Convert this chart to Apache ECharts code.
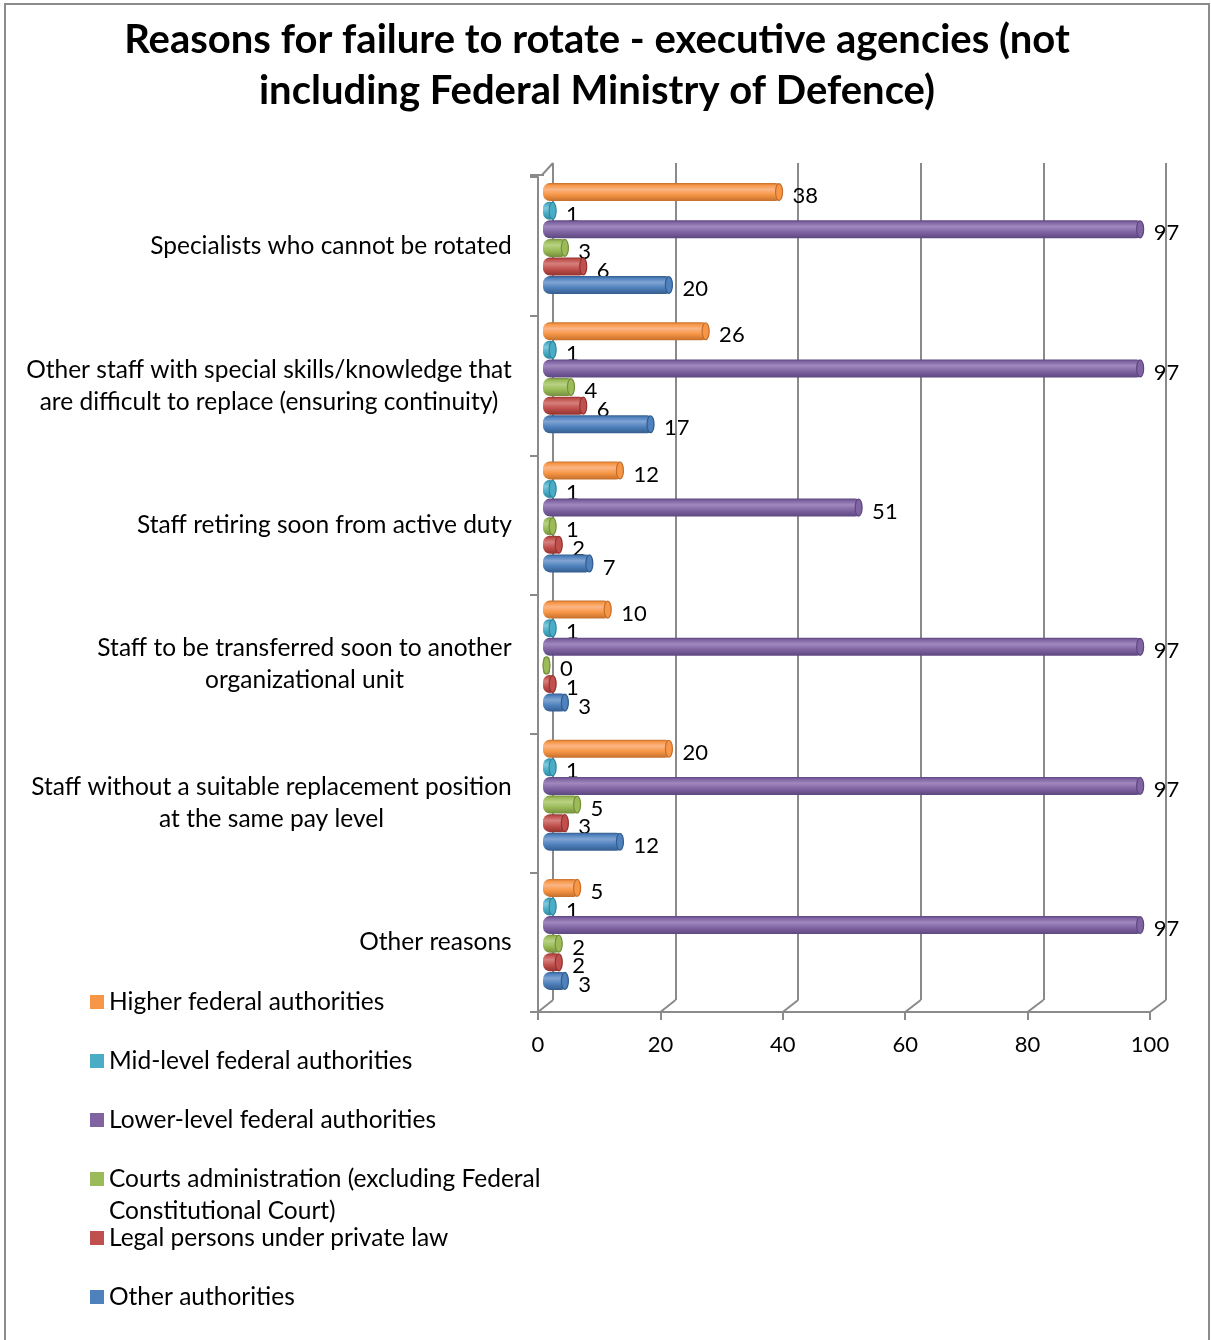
<!DOCTYPE html>
<html>
<head>
<meta charset="utf-8">
<script src="https://cdn.jsdelivr.net/npm/echarts@6/dist/echarts.min.js"></script>
<style>
  html, body { margin: 0; padding: 0; background: #fff; }
  #chart { width: 1211px; height: 1340px; }
</style>
</head>
<body>
<div id="chart"></div>
<script>
// Reasons for failure to rotate, by type of executive agency
var categories = [
  'Specialists who cannot be rotated',
  'Other staff with special skills/knowledge that\nare difficult to replace (ensuring continuity)',
  'Staff retiring soon from active duty',
  'Staff to be transferred soon to another\norganizational unit',
  'Staff without a suitable replacement position\nat the same pay level',
  'Other reasons'
];
var seriesNames = [
  'Higher federal authorities',
  'Mid-level federal authorities',
  'Lower-level federal authorities',
  'Courts administration (excluding Federal Constitutional Court)',
  'Legal persons under private law',
  'Other authorities'
];
var higherFederal = [38, 26, 12, 10, 20, 5];
var midLevelFederal = [1, 1, 1, 1, 1, 1];
var lowerLevelFederal = [97, 97, 51, 97, 97, 97];
var courtsAdministration = [3, 4, 1, 0, 5, 2];
var legalPersonsPrivate = [6, 6, 2, 1, 3, 2];
var otherAuthorities = [20, 17, 7, 3, 12, 3];
var axisTicks = [0, 20, 40, 60, 80, 100];

var seriesValues = [higherFederal, midLevelFederal, lowerLevelFederal,
  courtsAdministration, legalPersonsPrivate, otherAuthorities];

// base / highlight / shade for the cylinder look
var palette = [
  ['#F79646', '#FBB585', '#C46F2C'],
  ['#4BACC6', '#82C8DB', '#2E87A0'],
  ['#8064A2', '#A089BE', '#5C4780'],
  ['#9BBB59', '#B8D283', '#748F3B'],
  ['#C0504D', '#D6807D', '#93332F'],
  ['#4F81BD', '#80A4D3', '#345D8E']
];

var FONT = 'Lato, "Open Sans", sans-serif';
var TEXT_SIZE = 24.5;
var GRID_LINE = '#8a8a8a';
var DEPTH_X = 11;      // bars sit a little behind the front plane
var BAR_H = 18;
var BAR_STEP = 18.6;
var FIRST_OFFSET = -54.5;

// Multi-line category names: lines centred within a right-aligned block
var measureCtx = document.createElement('canvas').getContext('2d');
measureCtx.font = TEXT_SIZE + 'px ' + FONT;
var categoryRich = {};
categories.forEach(function (name, i) {
  var lines = name.split('\n');
  var w = 0;
  lines.forEach(function (l) { w = Math.max(w, measureCtx.measureText(l).width); });
  categoryRich['c' + i] = {
    width: Math.ceil(w), align: 'center',
    fontSize: TEXT_SIZE, fontFamily: FONT, color: '#000', lineHeight: 32
  };
});
function categoryFormatter(value, index) {
  var idx = categories.indexOf(value);
  if (idx < 0) idx = index;
  return value.split('\n').map(function (l) {
    return '{c' + idx + '|' + l + '}';
  }).join('\n');
}

function cylinderRenderer(sIdx) {
  var cols = palette[sIdx];
  return function (params, api) {
    var v = api.value(0);
    var cat = api.value(1);
    var p0 = api.coord([0, cat]);
    var p1 = api.coord([v, cat]);
    var cy = p0[1] + FIRST_OFFSET + sIdx * BAR_STEP;
    var xs = p0[0] + DEPTH_X;
    var xe = p1[0] + DEPTH_X;
    var left = xs - 6;
    var right = Math.max(xe + 1, xs + 1);
    var grad = new echarts.graphic.LinearGradient(0, 0, 0, 1, [
      { offset: 0, color: cols[2] },
      { offset: 0.12, color: cols[0] },
      { offset: 0.35, color: cols[1] },
      { offset: 0.65, color: cols[0] },
      { offset: 1, color: cols[2] }
    ]);
    var children = [
      {
        type: 'rect',
        shape: { x: left, y: cy - BAR_H / 2, width: right - left, height: BAR_H, r: 7 },
        style: { fill: grad }
      },
      {
        type: 'ellipse',
        shape: { cx: right - 3.5, cy: cy, rx: 3.5, ry: BAR_H / 2 - 0.5 },
        style: { fill: cols[0], stroke: cols[2], lineWidth: 1.2 }
      },
      {
        type: 'text',
        style: {
          text: String(v), x: right + 10, y: cy + 4,
          fill: '#000', font: '22px ' + FONT,
          verticalAlign: 'middle', align: 'left'
        }
      }
    ];
    return { type: 'group', children: children };
  };
}

var barSeries = seriesValues.map(function (vals, sIdx) {
  return {
    name: seriesNames[sIdx],
    type: 'custom',
    xAxisIndex: 0,
    yAxisIndex: 0,
    z: 10,
    itemStyle: { color: palette[sIdx][0] },
    encode: { x: 0, y: 1 },
    data: vals.map(function (v, i) { return [v, i]; }),
    renderItem: cylinderRenderer(sIdx)
  };
});

// floor depth lines joining the front axis to the back wall
var depthSeries = {
  type: 'custom',
  xAxisIndex: 0,
  yAxisIndex: 0,
  z: 2,
  silent: true,
  encode: { x: 0, y: 1 },
  data: axisTicks.map(function (t) { return [t, 0]; }),
  renderItem: function (params, api) {
    var v = api.value(0);
    var x = api.coord([v, 0])[0];
    var cs = params.coordSys;
    var yb = cs.y + cs.height;
    var lineStyle = { stroke: GRID_LINE, lineWidth: 2 };
    var children = [{
      type: 'line',
      shape: { x1: x, y1: yb, x2: x + 15 + v * 0.01, y2: yb - 12 },
      style: lineStyle
    }];
    if (v === 0) {
      children.push({
        type: 'line',
        shape: { x1: x - 8, y1: cs.y - 2, x2: x + 6, y2: cs.y - 2 },
        style: lineStyle
      });
      children.push({
        type: 'line',
        shape: { x1: x + 4, y1: cs.y - 2, x2: x + 15, y2: cs.y - 14 },
        style: lineStyle
      });
    }
    return { type: 'group', children: children };
  }
};

// one legend block per series so that the wrapped entry keeps the even spacing
var legendCenters = [1002, 1061, 1120, 1179, 1238, 1297];
var legends = seriesNames.map(function (name, i) {
  var twoLine = i === 3;
  return {
    data: [name],
    left: 90,
    top: twoLine ? legendCenters[i] - 48 : legendCenters[i] - 14,
    padding: 0,
    itemWidth: 14,
    itemHeight: 14,
    icon: 'rect',
    selectedMode: false,
    // a blank first line keeps the icon beside the first line of the wrapped name
    formatter: twoLine
      ? function () { return ' \nCourts administration (excluding Federal\nConstitutional Court)'; }
      : '{name}',
    textStyle: twoLine
      ? { fontSize: TEXT_SIZE, fontFamily: FONT, color: '#000', lineHeight: 32 }
      : { fontSize: TEXT_SIZE, fontFamily: FONT, color: '#000', lineHeight: 28 }
  };
});

var chart = echarts.init(document.getElementById('chart'), null, { renderer: 'canvas' });
chart.setOption({
  backgroundColor: '#fff',
  animation: false,
  title: {
    text: 'Reasons for failure to rotate - executive agencies (not\nincluding Federal Ministry of Defence)',
    left: 597,
    top: 15,
    padding: 0,
    textAlign: 'center',
    textStyle: { fontSize: 40, fontWeight: 'bold', fontFamily: FONT, color: '#000', lineHeight: 51 }
  },
  legend: legends,
  graphic: [{
    type: 'rect',
    shape: { x: 5, y: 4, width: 1204, height: 1400 },
    style: { fill: 'none', stroke: '#8c8c8c', lineWidth: 2 },
    silent: true
  }],
  grid: [
    { left: 538, top: 177, width: 612, height: 835 },
    { left: 553, top: 163, width: 613, height: 837 }
  ],
  xAxis: [
    {
      gridIndex: 0, type: 'value', min: 0, max: 100, interval: 20,
      axisLine: { show: true, lineStyle: { color: GRID_LINE, width: 2 } },
      axisTick: { show: true, length: 8, lineStyle: { color: GRID_LINE, width: 2 } },
      axisLabel: { margin: 22, fontSize: 22, fontFamily: FONT, color: '#000' },
      splitLine: { show: false }
    },
    {
      gridIndex: 1, type: 'value', min: 0, max: 100, interval: 20,
      axisLine: { show: false }, axisTick: { show: false }, axisLabel: { show: false },
      splitLine: { show: true, lineStyle: { color: GRID_LINE, width: 2 } }
    }
  ],
  yAxis: [
    {
      gridIndex: 0, type: 'category', inverse: true, data: categories,
      axisLine: { show: true, lineStyle: { color: GRID_LINE, width: 2 } },
      axisTick: { show: true, length: 8, lineStyle: { color: GRID_LINE, width: 2 } },
      axisLabel: {
        margin: 26, fontSize: TEXT_SIZE, fontFamily: FONT, color: '#000',
        lineHeight: 32, align: 'right',
        formatter: categoryFormatter, rich: categoryRich
      },
      splitLine: { show: false }
    },
    {
      gridIndex: 1, type: 'category', inverse: true, data: categories, show: false
    }
  ],
  series: [depthSeries].concat(barSeries)
});
</script>
</body>
</html>
